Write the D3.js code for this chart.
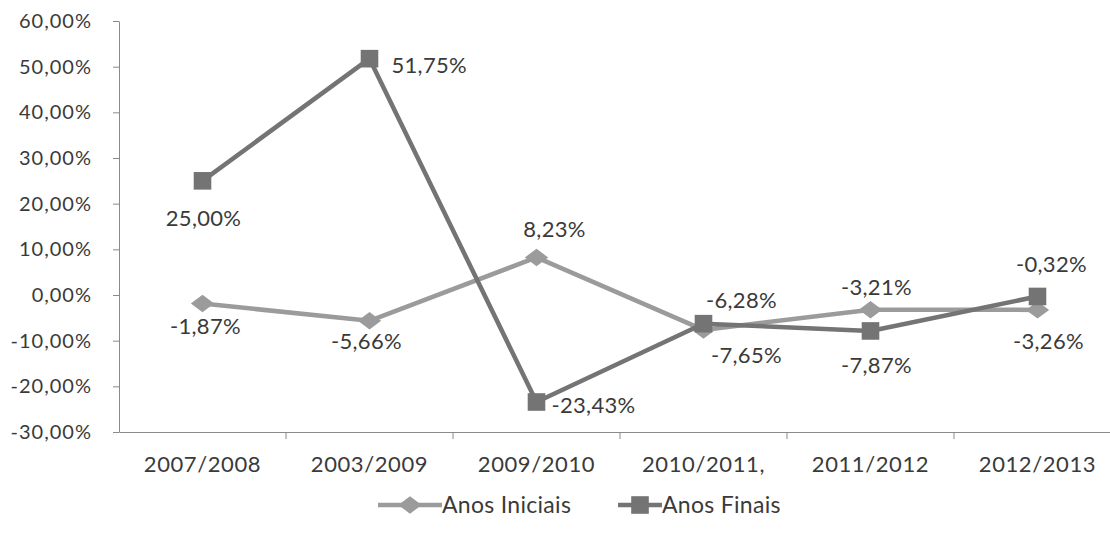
<!DOCTYPE html>
<html>
<head>
<meta charset="utf-8">
<script src="https://cdn.jsdelivr.net/npm/d3@7"></script>
<style>
  body { margin: 0; background: #fff; }
  text { font-family: Lato, "Open Sans", sans-serif; fill: #3a3a3a; }
</style>
</head>
<body>
<div id="chart-area"></div>
<script>
// categories and values
const years = ["2007/2008", "2003/2009", "2009/2010", "2010/2011,", "2011/2012", "2012/2013"];
const anosIniciais = [-1.87, -5.66, 8.23, -7.65, -3.21, -3.26];
const anosFinais = [25.00, 51.75, -23.43, -6.28, -7.87, -0.32];
const yTicks = [-30, -20, -10, 0, 10, 20, 30, 40, 50, 60];

// label placement next to each marker: [dx, dy, anchor]
const labIniciais = [[3, 23, "middle"], [-3, 20, "middle"], [18, -28, "middle"], [43, 25, "middle"], [6, -22, "middle"], [11, 31, "middle"]];
const labFinais = [[1, 37, "middle"], [22, 7, "start"], [15, 3, "start"], [38, -23, "middle"], [6, 34, "middle"], [14, -32, "middle"]];

const width = 1110, height = 535;
const fmt = v => d3.format(".2f")(Math.abs(v)).replace(".", ",") + "%";
const fmtS = v => (v < 0 ? "-" : "") + fmt(v);

const svg = d3.select("#chart-area").append("svg")
    .attr("width", width)
    .attr("height", height)

const x = d3.scaleBand().domain(years).range([119, 1121])
const y = d3.scaleLinear().domain([-30, 60]).range([432, 21])

// y axis
const yAxis = svg.append("g")
    .attr("transform", "translate(119,0)")
    .call(d3.axisLeft(y).tickValues(yTicks).tickSize(6).tickSizeOuter(0).tickFormat(fmtS))
yAxis.select(".domain").attr("stroke", "#8a8a8a")
yAxis.selectAll(".tick line").attr("stroke", "#8a8a8a")
yAxis.selectAll(".tick text")
    .attr("font-size", 20).attr("letter-spacing", 1).attr("x", -27)
    .attr("fill", "#3a3a3a")

// x axis
const xAxis = svg.append("g")
    .attr("transform", "translate(0,432)")
    .call(d3.axisBottom(x).tickSize(0).tickSizeOuter(0))
xAxis.select(".domain").attr("stroke", "#8a8a8a")
xAxis.selectAll(".tick text")
    .attr("font-size", 22).attr("letter-spacing", 0.6)
    .attr("y", 0).attr("dy", 40).attr("fill", "#3a3a3a")
// tick marks sit between the categories
svg.selectAll(".xsep")
    .data(years.slice(1))
    .enter().append("line")
    .attr("x1", d => x(d)).attr("x2", d => x(d))
    .attr("y1", 432).attr("y2", 439)
    .attr("stroke", "#8a8a8a")

const cx = d => x(d) + x.bandwidth() / 2;
const line = d3.line().x(d => cx(d.year)).y(d => y(d.value))

// the diamond in the picture is wider than it is tall
const series = [
    { name: "Anos Iniciais", values: anosIniciais, labs: labIniciais, color: "#9b9b9b", shape: d3.symbolDiamond2, size: 240, sx: 1.2, sy: 0.9 },
    { name: "Anos Finais", values: anosFinais, labs: labFinais, color: "#747474", shape: d3.symbolSquare, size: 310, sx: 1, sy: 1 }
]

series.forEach(s => {
    const pts = years.map((yr, i) => ({ year: yr, value: s.values[i], lab: s.labs[i] }))
    svg.append("path")
        .datum(pts)
        .attr("d", line)
        .attr("fill", "none")
        .attr("stroke", s.color)
        .attr("stroke-width", 4.5)
        .attr("stroke-linejoin", "round")
    svg.selectAll(null)
        .data(pts)
        .enter().append("path")
        .attr("d", d3.symbol().type(s.shape).size(s.size))
        .attr("transform", d => `translate(${cx(d.year)},${y(d.value)}) scale(${s.sx},${s.sy})`)
        .attr("fill", s.color)
    s.pts = pts
})

// data labels
series.forEach(s => {
    svg.selectAll(null)
        .data(s.pts)
        .enter().append("text")
        .attr("x", d => cx(d.year) + d.lab[0])
        .attr("y", d => y(d.value) + d.lab[1])
        .attr("dy", "0.35em")
        .attr("text-anchor", d => d.lab[2])
        .attr("font-size", 22)
        .attr("letter-spacing", 0.3)
        .text(d => fmtS(d.value))
})

// legend
const legend = svg.append("g").attr("transform", "translate(0,505)")
const legX = [378, 618]
const legW = [64, 44]
series.forEach((s, i) => {
    const g = legend.append("g").attr("transform", `translate(${legX[i]},0)`)
    g.append("line").attr("x1", 0).attr("x2", legW[i]).attr("stroke", s.color).attr("stroke-width", 4.5)
    g.append("path").attr("d", d3.symbol().type(s.shape).size(s.size))
        .attr("transform", `translate(${legW[i] / 2},0) scale(${s.sx},${s.sy})`).attr("fill", s.color)
    g.append("text").attr("x", legW[i]).attr("dy", "0.35em").attr("font-size", 23).attr("letter-spacing", 0.3).text(s.name)
})
</script>
</body>
</html>
